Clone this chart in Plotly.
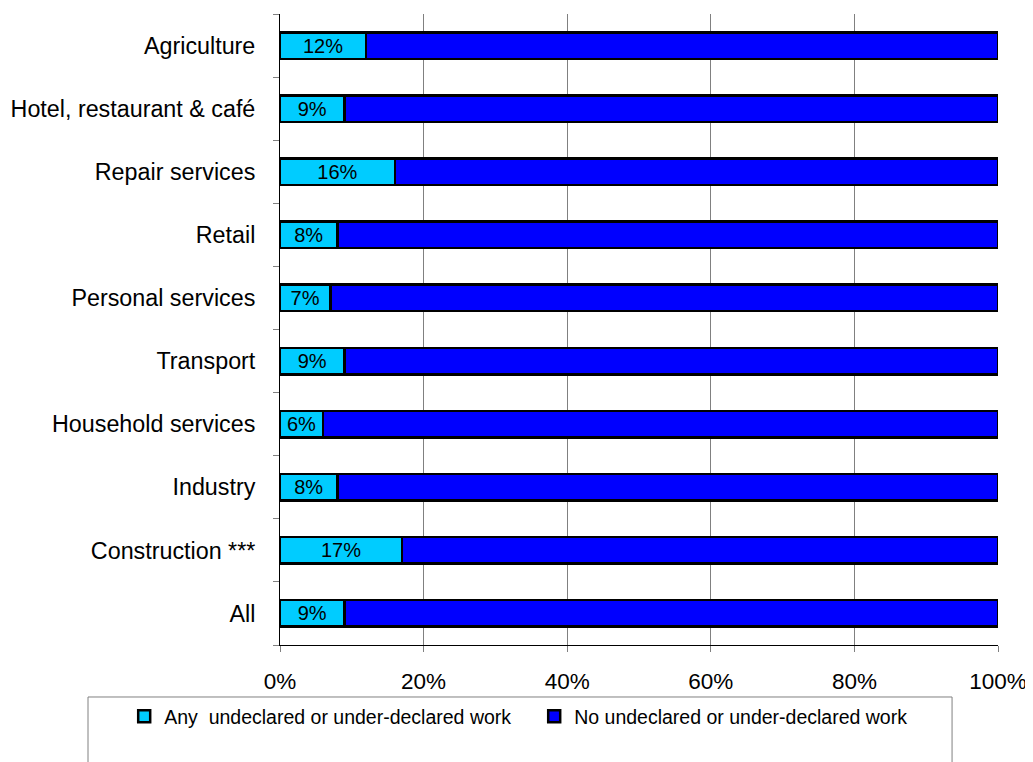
import plotly.graph_objects as go

categories = ["All", "Construction ***", "Industry", "Household services", "Transport",
              "Personal services", "Retail", "Repair services", "Hotel, restaurant & café", "Agriculture"]
any_undeclared = [9, 17, 8, 6, 9, 7, 8, 16, 9, 12]
no_undeclared = [100 - v for v in any_undeclared]
x_ticks = [0, 20, 40, 60, 80, 100]
x_tick_labels = ["0%", "20%", "40%", "60%", "80%", "100%"]

FONT = "Liberation Sans, Arial, sans-serif"

fig = go.Figure()
fig.add_trace(go.Bar(
    y=categories, x=any_undeclared, orientation="h",
    name="Any  undeclared or under-declared work",
    marker=dict(color="#00CCFF", line=dict(color="black", width=2.5)),
    text=[f"{v}%" for v in any_undeclared], textposition="inside",
    insidetextanchor="middle", textangle=0, constraintext="none",
    textfont=dict(family=FONT, size=20, color="black"),
    hoverinfo="skip",
))
fig.add_trace(go.Bar(
    y=categories, x=no_undeclared, orientation="h",
    name="No undeclared or under-declared work",
    marker=dict(color="#0000FF", line=dict(color="black", width=2.5)),
    hoverinfo="skip",
))

# legend frame (extends below the visible page, as in the reference)
fig.add_shape(type="rect", xref="paper", yref="paper",
              x0=-0.2674, x1=0.936, y0=-0.0824, y1=-0.25,
              line=dict(color="#808080", width=1), fillcolor="rgba(0,0,0,0)", layer="below")

fig.update_layout(
    barmode="stack", bargap=0.58,
    width=1025, height=754,
    margin=dict(l=272, r=35, t=6, b=117),
    plot_bgcolor="white", paper_bgcolor="white",
    font=dict(family=FONT, size=22, color="black"),
    xaxis=dict(range=[0, 100], tickvals=x_ticks, ticktext=x_tick_labels,
               showgrid=True, gridcolor="#808080", gridwidth=1,
               showline=True, linecolor="black", linewidth=1,
               ticks="outside", ticklen=6, tickcolor="#808080", automargin=False,
               tickfont=dict(size=22.5), zeroline=False, ticklabelstandoff=10),
    yaxis=dict(categoryorder="array", categoryarray=categories,
               showline=True, linecolor="black", linewidth=1, automargin=False,
               ticks="outside", tickson="boundaries", ticklen=6, tickcolor="#808080",
               tickfont=dict(size=23.3), showgrid=False, ticklabelstandoff=19),
    legend=dict(orientation="h", x=-0.217, xanchor="left", y=-0.0824, yanchor="top",
                borderwidth=0, bgcolor="rgba(0,0,0,0)", font=dict(size=19.5),
                entrywidth=365, itemwidth=30, traceorder="normal"),
    showlegend=True,
)

fig.write_html("out.html")
